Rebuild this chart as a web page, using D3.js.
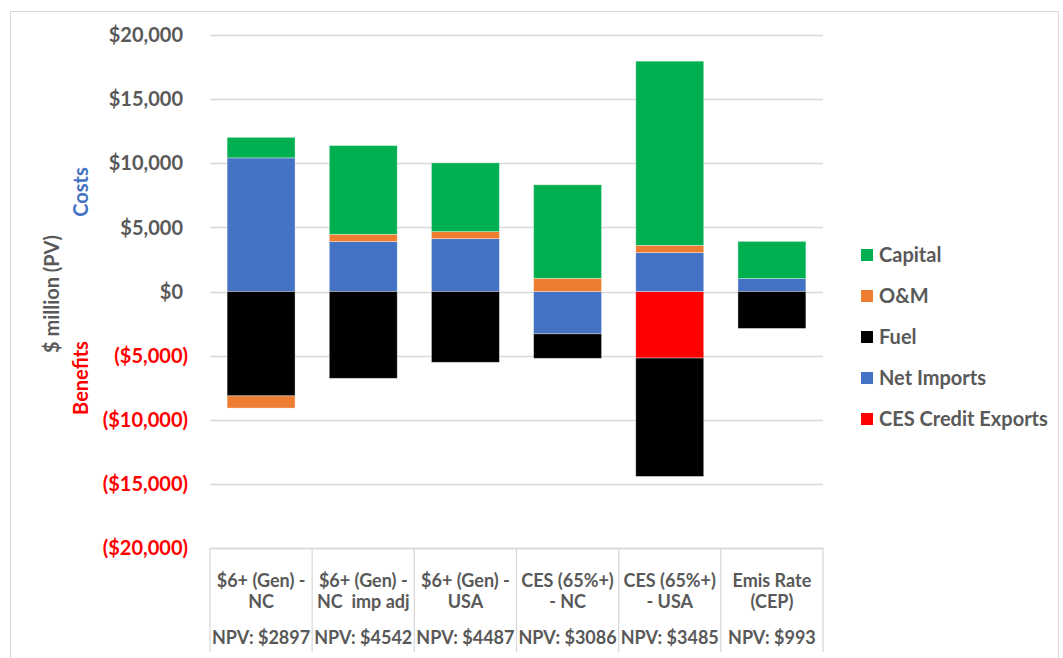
<!DOCTYPE html>
<html>
<head>
<meta charset="utf-8">
<script src="https://cdn.jsdelivr.net/npm/d3@7"></script>
<style>
  body { margin: 0; background: #fff; }
  svg { font-family: Lato, "Open Sans", sans-serif; font-weight: bold; }
</style>
</head>
<body>
<svg id="chart" width="1063" height="658"></svg>
<script>
// scenario labels (two lines each) and NPV row
const line1 = ['$6+ (Gen) -', '$6+ (Gen) -', '$6+ (Gen) -', 'CES (65%+)', 'CES (65%+)', 'Emis Rate'];
const line2 = ['NC', 'NC  imp adj', 'USA', '- NC', '- USA', '(CEP)'];
const npv = ['NPV: $2897', 'NPV: $4542', 'NPV: $4487', 'NPV: $3086', 'NPV: $3485', 'NPV: $993'];

// values in $ million (PV)
const capital    = [1600, 6920, 5360, 7290, 14360, 2900];
const om         = [-950, 570, 550, 1030, 570, 0];
const fuel       = [-8140, -6770, -5520, -1910, -9230, -2880];
const netImports = [10420, 3890, 4120, -3300, 3030, 1010];
const cesCredit  = [0, 0, 0, 0, -5190, 0];

const yTicks = [-20000, -15000, -10000, -5000, 0, 5000, 10000, 15000, 20000];

// stack order bottom->top (legend shows it reversed)
const series = [
    {key: 'CES Credit Exports', values: cesCredit, color: '#FF0000'},
    {key: 'Net Imports', values: netImports, color: '#4472C4'},
    {key: 'Fuel', values: fuel, color: '#000000'},
    {key: 'O&M', values: om, color: '#ED7D31'},
    {key: 'Capital', values: capital, color: '#00B050'}
];

let svg = d3.select('#chart');
const gray = '#595959';
const plotLeft = 210, plotRight = 823, plotTop = 35, plotBottom = 548;

// outer frame
svg.append('rect')
    .attr('x', 10.5).attr('y', 11.5)
    .attr('width', 1048).attr('height', 660)
    .attr('fill', 'none')
    .attr('stroke', '#d9d9d9');

let ids = d3.range(line1.length);
let x = d3.scaleBand().domain(ids).range([plotLeft, plotRight]).paddingInner(0.335).paddingOuter(0.1675);
let y = d3.scaleLinear().domain([-20000, 20000]).range([plotBottom, plotTop]);

// gridlines
svg.append('g').selectAll('line')
    .data(yTicks)
    .join('line')
    .attr('x1', plotLeft).attr('x2', plotRight)
    .attr('y1', d => Math.round(y(d)) + 0.5)
    .attr('y2', d => Math.round(y(d)) + 0.5)
    .attr('stroke', '#d9d9d9')
    .attr('stroke-width', 1.3);

// y tick labels
function fmt(v) {
    let s = '$' + d3.format(',')(Math.abs(v));
    return v < 0 ? '(' + s + ')' : s;
}
svg.append('g').selectAll('text')
    .data(yTicks)
    .join('text')
    .attr('x', d => d < 0 ? 188 : 183)
    .attr('y', d => y(d))
    .attr('dy', '0.36em')
    .attr('text-anchor', 'end')
    .attr('font-size', '20px')
    .style('fill', d => d < 0 ? '#FF0000' : gray)
    .text(fmt);

// stacked bars
let rows = ids.map(i => {
    let r = {i: i};
    series.forEach(s => r[s.key] = s.values[i]);
    return r;
});
let stack = d3.stack()
    .keys(series.map(s => s.key))
    .offset(d3.stackOffsetDiverging);
let layers = stack(rows);

svg.append('g').selectAll('g')
    .data(layers)
    .join('g')
    .attr('fill', (d, k) => series[k].color)
    .selectAll('rect')
    .data(d => d.filter(p => p[1] - p[0] !== 0))
    .join('rect')
    .attr('x', p => x(p.data.i))
    .attr('width', x.bandwidth())
    .attr('y', p => y(p[1]))
    .attr('height', p => y(p[0]) - y(p[1]))
    .attr('stroke', '#ffffff')
    .attr('stroke-opacity', 0.45)
    .attr('stroke-width', 0.8);

// category table
let table = svg.append('g').attr('stroke', '#d9d9d9').attr('stroke-width', 1.3);
table.append('line')
    .attr('x1', plotLeft).attr('x2', plotRight)
    .attr('y1', plotBottom + 0.5).attr('y2', plotBottom + 0.5);
let step = x.step();
table.selectAll('line.v')
    .data(d3.range(line1.length + 1))
    .join('line')
    .attr('class', 'v')
    .attr('x1', i => plotLeft + i * step).attr('x2', i => plotLeft + i * step)
    .attr('y1', plotBottom).attr('y2', 652);

let labels = svg.append('g')
    .attr('text-anchor', 'middle')
    .attr('font-size', '18px')
    .style('fill', gray);
ids.forEach(i => {
    let cx = x(i) + x.bandwidth() / 2;
    labels.append('text').attr('x', cx).attr('y', 587).text(line1[i]);
    labels.append('text').attr('x', cx).attr('y', 608).style('white-space', 'pre').text(line2[i]);
    labels.append('text').attr('x', cx).attr('y', 644).text(npv[i]);
});

// axis titles
svg.append('text')
    .attr('transform', 'translate(59,294) rotate(-90)')
    .attr('text-anchor', 'middle')
    .attr('font-size', '20px')
    .style('fill', gray)
    .text('$ million (PV)');
svg.append('text')
    .attr('transform', 'translate(88,192) rotate(-90)')
    .attr('text-anchor', 'middle')
    .attr('font-size', '20px')
    .style('fill', '#4472C4')
    .text('Costs');
svg.append('text')
    .attr('transform', 'translate(88,378) rotate(-90)')
    .attr('text-anchor', 'middle')
    .attr('font-size', '20px')
    .style('fill', '#FF0000')
    .text('Benefits');

// legend
let legend = svg.append('g');
let legendItems = series.slice().reverse();
legendItems.forEach((s, k) => {
    let cy = 255 + k * 41;
    legend.append('rect')
        .attr('x', 861).attr('y', cy - 6)
        .attr('width', 12).attr('height', 12)
        .attr('fill', s.color);
    legend.append('text')
        .attr('x', 879).attr('y', cy)
        .attr('dy', '0.36em')
        .attr('font-size', '20px')
        .style('fill', gray)
        .text(s.key);
});
</script>
</body>
</html>
